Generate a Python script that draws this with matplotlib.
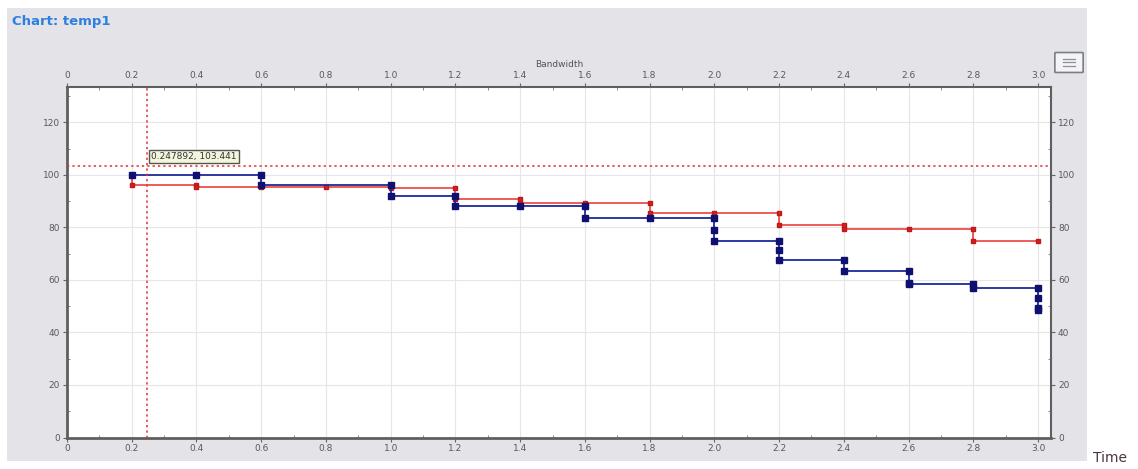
"""Step chart of two series against time, with a crosshair readout."""
import matplotlib

matplotlib.use("Agg")
import matplotlib.pyplot as plt
from matplotlib.patches import FancyBboxPatch, Rectangle
from matplotlib.ticker import MultipleLocator

# series: repeated x gives the vertical drops
blue_x = [0.2, 0.4, 0.6, 0.6, 1.0, 1.0, 1.2, 1.2, 1.4, 1.6, 1.6, 1.8, 2.0, 2.0, 2.0,
          2.2, 2.2, 2.2, 2.4, 2.4, 2.6, 2.6, 2.6, 2.8, 2.8, 3.0, 3.0, 3.0, 3.0]
blue_y = [100, 100, 100, 96, 96, 92, 92, 88, 88, 88, 83.5, 83.5, 83.5, 79, 75,
          75, 71.5, 67.5, 67.5, 63.5, 63.5, 59, 58.5, 58.5, 57, 57, 53, 49.5, 48.5]

red_x = [0.2, 0.2, 0.4, 0.4, 0.6, 0.8, 1.0, 1.0, 1.2, 1.2, 1.4, 1.4, 1.6, 1.8, 1.8,
         2.0, 2.2, 2.2, 2.4, 2.4, 2.6, 2.8, 2.8, 3.0]
red_y = [100, 96, 96, 95.5, 95.5, 95.5, 95.5, 95, 95, 91, 91, 89.5, 89.5, 89.5, 85.5,
         85.5, 85.5, 81, 81, 79.5, 79.5, 79.5, 75, 75]

cursor_x = 0.247892
cursor_y = 103.441
x_ticks = [0, 0.2, 0.4, 0.6, 0.8, 1.0, 1.2, 1.4, 1.6, 1.8, 2.0, 2.2, 2.4, 2.6, 2.8, 3.0]
x_labels = ["0", "0.2", "0.4", "0.6", "0.8", "1.0", "1.2", "1.4", "1.6", "1.8",
            "2.0", "2.2", "2.4", "2.6", "2.8", "3.0"]
y_ticks = [0, 20, 40, 60, 80, 100, 120]

W, H = 1138, 469
fig = plt.figure(figsize=(W / 100, H / 100), dpi=100)
fig.patch.set_facecolor("white")

# grey chart panel
panel = Rectangle((7 / W, 1 - 461 / H), (1087 - 7) / W, (461 - 8) / H,
                  transform=fig.transFigure, facecolor="#e3e3e8", edgecolor="none")
panel.set_zorder(-10)
fig.patches.append(panel)
fig.text(12 / W, 1 - 22 / H, "Chart: temp1", color="#2f7fe0", fontsize=9.5,
         fontweight="bold", va="center", ha="left")

# small menu button at the top right
fig.patches.append(FancyBboxPatch((1056 / W, 1 - 72 / H), 26 / W, 19 / H,
                                  boxstyle="round,pad=0.001", transform=fig.transFigure,
                                  facecolor="#f4f4f6", edgecolor="#7a7f8a", linewidth=1.2))
for yy in (59, 62.5, 66):
    fig.add_artist(plt.Line2D([1063 / W, 1075 / W], [1 - yy / H, 1 - yy / H],
                              transform=fig.transFigure, color="#8a8f99", linewidth=0.9))

ax = fig.add_axes([67 / W, 1 - 437.5 / H, (1051 - 67) / W, (437.5 - 87) / H])
ax.set_zorder(5)
ax.set_facecolor("white")
ax.set_xlim(0, 3.04)
ax.set_ylim(0, 133.5)

ax.grid(True, color="#e6e6e6", linewidth=0.8)
ax.set_axisbelow(True)

ax.plot(red_x, red_y, color="#e8302a", linewidth=1.1, marker="s", markersize=3.5,
        markerfacecolor="#d42020", markeredgecolor="#c01818", zorder=3)
ax.plot(blue_x, blue_y, color="#1e2a9a", linewidth=1.3, marker="s", markersize=4,
        markerfacecolor="#101070", markeredgecolor="#101070", zorder=4)

# crosshair with readout
ax.axvline(cursor_x, color="#e03030", linestyle=(0, (1.5, 2)), linewidth=1.1, zorder=5)
ax.axhline(cursor_y, color="#e03030", linestyle=(0, (1.5, 2)), linewidth=1.1, zorder=5)
ax.text(cursor_x + 0.012, cursor_y + 3.5, f"{cursor_x:g}, {cursor_y:g}", fontsize=6.5,
        color="#333333", ha="left", va="center", zorder=6,
        bbox=dict(boxstyle="square,pad=0.25", facecolor="#f3f6dc", edgecolor="#555555",
                  linewidth=1.0))

ax.set_xticks(x_ticks)
ax.set_xticklabels(x_labels)
ax.set_yticks(y_ticks)
ax.xaxis.set_minor_locator(MultipleLocator(0.1))
ax.yaxis.set_minor_locator(MultipleLocator(10))
ax.tick_params(axis="both", which="major", direction="out", length=3, width=0.8,
               colors="#666666", labelsize=6.5, labelcolor="#5a5a5a", pad=2,
               top=True, right=True, labeltop=True, labelright=True)
ax.tick_params(axis="both", which="minor", direction="in", length=2, width=0.6,
               colors="#777777", top=True, right=True)

for side, lw in (("left", 2.0), ("bottom", 2.0), ("top", 1.5), ("right", 1.5)):
    ax.spines[side].set_color("#5f5f5f")
    ax.spines[side].set_linewidth(lw)

ax.xaxis.set_label_position("top")
ax.set_xlabel("Bandwidth", fontsize=6.5, color="#555555", labelpad=3)

fig.text(1110 / W, 1 - 458 / H, "Time", fontsize=10, color="#4a3345",
         ha="center", va="center")

fig.savefig("out.png", dpi=100)
